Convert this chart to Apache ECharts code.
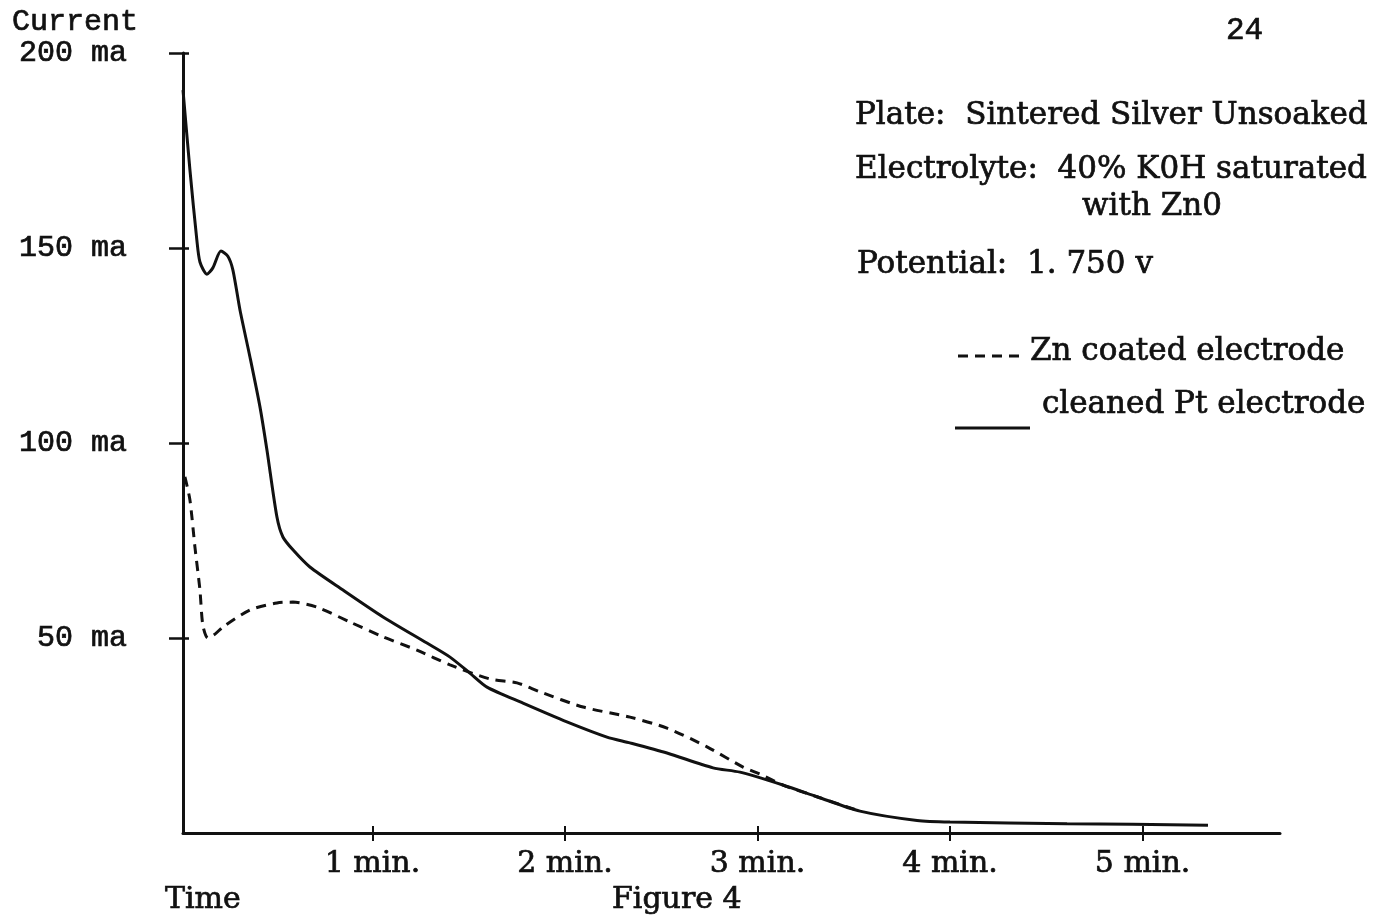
<!DOCTYPE html>
<html>
<head>
<meta charset="utf-8">
<title>Figure 4</title>
<script src="https://cdn.jsdelivr.net/npm/echarts@6/dist/echarts.min.js"></script>
<style>
  html, body { margin: 0; padding: 0; background: #fff; }
  #chart { width: 1386px; height: 916px; }
</style>
</head>
<body>
<div id="chart"></div>
<script>
// Current (ma) against time (min) for a sintered silver plate
const xTickValues = [1, 2, 3, 4, 5];
const yTickValues = [50, 100, 150, 200];

// cleaned Pt electrode (solid)
const ptTime = [0.016, 0.052, 0.088, 0.104, 0.140, 0.171, 0.213, 0.249, 0.275, 0.312, 0.364, 0.416,
  0.452, 0.504, 0.535, 0.587, 0.675, 0.847, 1.055, 1.283, 1.403, 1.506, 1.595, 1.782, 2.010, 2.218,
  2.338, 2.530, 2.769, 2.909, 3.132, 3.309, 3.532, 3.829, 4.000, 4.608, 5.340];
const ptCurrent = [190.5, 170, 152, 146.4, 143.3, 144.9, 149.2, 147.9, 144.4, 134.1, 122, 109.2,
  98.2, 81, 75.9, 72.6, 68.2, 62.3, 55.4, 48.7, 45.1, 41, 37.4, 33.3, 28.5, 24.6,
  23.1, 20.5, 16.7, 15.6, 12.3, 9.3, 5.6, 3.2, 2.8, 2.4, 2.0];

// Zn coated electrode (dashed)
const znTime = [0.026, 0.052, 0.078, 0.104, 0.119, 0.145, 0.182, 0.223, 0.364, 0.504, 0.587, 0.712,
  0.883, 1.055, 1.231, 1.403, 1.610, 1.751, 1.870, 2.094, 2.338, 2.530, 2.738, 2.925, 3.013,
  3.132, 3.309, 3.532];
const znCurrent = [91.3, 85.4, 73.3, 62.3, 53.3, 50, 51, 52.8, 57.2, 59, 59.2, 57.9,
  54.1, 50.3, 46.9, 43.1, 39.5, 38.5, 36.2, 32.3, 29.7, 26.9, 22.1, 16.9, 15.1,
  12.3, 9.3, 5.6];

const pairs = (xs, ys) => xs.map((x, i) => [x, ys[i]]);

const INK = '#111';
const serif = 'DejaVu Serif';
const mono = 'Liberation Mono';
const X_MIN = 0.016, X_MAX = 5.714;

const chart = echarts.init(document.getElementById('chart'), null, { renderer: 'canvas' });

function label(text, x, y, font, size) {
  return {
    type: 'text', x, y,
    style: {
      text, fill: INK, stroke: INK, lineWidth: 0.7,
      font: `${size}px "${font}"`, align: 'left', verticalAlign: 'middle'
    }
  };
}

chart.setOption({
  backgroundColor: '#fff',
  animation: false,
  grid: { left: 183, right: 106, top: 53, bottom: 83, containLabel: false },
  xAxis: [{
    type: 'value', min: X_MIN, max: X_MAX,
    axisLine: { show: true, lineStyle: { color: INK, width: 3 } },
    axisTick: { show: true, customValues: xTickValues, length: 8, lineStyle: { color: INK, width: 2 } },
    axisLabel: {
      customValues: xTickValues, margin: 16, color: INK,
      fontFamily: serif, fontSize: 30, textBorderColor: INK, textBorderWidth: 0.7,
      formatter: v => v + ' min.'
    },
    splitLine: { show: false }
  }, {
    type: 'value', min: X_MIN, max: X_MAX, position: 'bottom',
    axisLine: { show: false },
    axisTick: { show: true, inside: true, customValues: xTickValues, length: 7, lineStyle: { color: INK, width: 2 } },
    axisLabel: { show: false },
    splitLine: { show: false }
  }],
  yAxis: [{
    type: 'value', min: 0, max: 200,
    axisLine: { show: true, lineStyle: { color: INK, width: 3 } },
    axisTick: { show: true, customValues: yTickValues, length: 14, lineStyle: { color: INK, width: 2.5 } },
    axisLabel: {
      customValues: yTickValues, margin: 56, color: INK,
      fontFamily: mono, fontSize: 30, textBorderColor: INK, textBorderWidth: 0.7,
      formatter: v => v + ' ma'
    },
    splitLine: { show: false }
  }, {
    type: 'value', min: 0, max: 200, position: 'left',
    axisLine: { show: false },
    axisTick: { show: true, inside: true, customValues: yTickValues, length: 6, lineStyle: { color: INK, width: 2.5 } },
    axisLabel: { show: false },
    splitLine: { show: false }
  }],
  series: [{
    name: 'cleaned Pt electrode',
    type: 'line', xAxisIndex: 0, yAxisIndex: 0,
    data: pairs(ptTime, ptCurrent),
    smooth: 0.25, showSymbol: false,
    lineStyle: { color: INK, width: 3 }
  }, {
    name: 'Zn coated electrode',
    type: 'line', xAxisIndex: 0, yAxisIndex: 0,
    data: pairs(znTime, znCurrent),
    smooth: 0.25, showSymbol: false,
    lineStyle: { color: INK, width: 3, type: [10, 7] }
  }],
  graphic: [
    label('Current', 12, 22, mono, 30),
    label('24', 1226, 31, mono, 31),
    label('Plate:  Sintered Silver Unsoaked', 855, 116, serif, 31),
    label('Electrolyte:  40% K0H saturated', 855, 170, serif, 31),
    label('with Zn0', 1082, 207, serif, 31),
    label('Potential:  1. 750 v', 857, 265, serif, 31),
    {
      type: 'line', shape: { x1: 958, y1: 356, x2: 1024, y2: 356 },
      style: { stroke: INK, lineWidth: 3, lineDash: [10, 7] }
    },
    label('Zn coated electrode', 1030, 352, serif, 31),
    {
      type: 'line', shape: { x1: 955, y1: 428, x2: 1030, y2: 428 },
      style: { stroke: INK, lineWidth: 3 }
    },
    label('cleaned Pt electrode', 1042, 405, serif, 31),
    label('Time', 165, 900, serif, 30),
    label('Figure 4', 612, 900, serif, 30)
  ]
});
</script>
</body>
</html>
